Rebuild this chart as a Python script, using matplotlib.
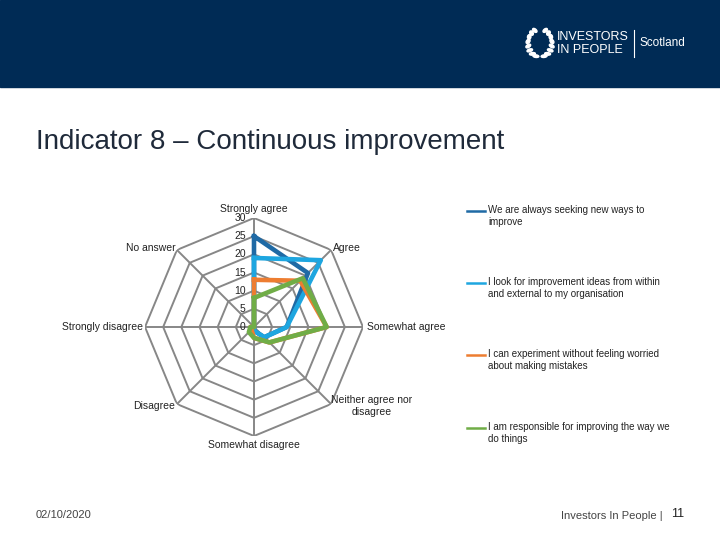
import numpy as np
import matplotlib
matplotlib.use("Agg")
import matplotlib.pyplot as plt
from matplotlib.patches import Rectangle, Ellipse
from matplotlib.lines import Line2D

plt.rcParams['font.family'] = ['Liberation Sans', 'DejaVu Sans']

# categories clockwise from the top
categories = ["Strongly agree", "Agree", "Somewhat agree", "Neither agree nor\ndisagree",
              "Somewhat disagree", "Disagree", "Strongly disagree", "No answer"]

series_names = ["We are always seeking new ways to\nimprove",
                "I look for improvement ideas from within\nand external to my organisation",
                "I can experiment without feeling worried\nabout making mistakes",
                "I am responsible for improving the way we\ndo things"]
seeking = [25, 21, 9, 4, 1, 0, 0, 0]
ideas = [19, 26, 9, 4, 1, 0, 0, 0]
experiment = [13, 18, 20, 6, 3, 1, 1, 0]
responsible = [8, 19, 20, 6, 3, 2, 1, 0]
series = [seeking, ideas, experiment, responsible]
colors = ['#1f6aa5', '#1ea6e0', '#ed7d31', '#70ad47']

ticks = [0, 5, 10, 15, 20, 25, 30]

W, H = 720, 540
fig = plt.figure(figsize=(7.2, 5.4), dpi=100)
fig.patch.set_facecolor('white')

def fx(px):
    return px / W

def fy(py):
    return 1 - py / H

# header band
fig.add_artist(Rectangle((0, fy(87)), 1, 87 / H, transform=fig.transFigure,
                         color='#002b55', zorder=0))

# logo: laurel wreath + text
cx, cy = 540, 43
for side in (-1, 1):
    for a in np.linspace(0.45, np.pi - 0.35, 8):
        ex = cx + side * 12 * np.sin(a)
        ey = cy - 14 * np.cos(a)
        ang = side * (np.degrees(a) - 90) + 90
        fig.add_artist(Ellipse((fx(ex), fy(ey)), 6 / W, 2.6 / H, angle=ang + side * 30,
                               transform=fig.transFigure, color='white', zorder=2))
fig.text(fx(557), fy(37), "INVESTORS", color='white', fontsize=9, va='center', ha='left')
fig.text(fx(557), fy(50), "IN PEOPLE", color='white', fontsize=9, va='center', ha='left')
fig.add_artist(Line2D([fx(634), fx(634)], [fy(30), fy(57)], color='white', lw=0.8,
                      transform=fig.transFigure))
fig.text(fx(640), fy(43), "Scotland", color='white', fontsize=8.5, va='center', ha='left')

# title
fig.text(fx(36), fy(142), "Indicator 8 \u2013 Continuous improvement", fontsize=20,
         color='#1f2a3a', va='center', ha='left')

# radar axes
R = 109
ax = fig.add_axes([fx(254 - R), fy(327 + R), 2 * R / W, 2 * R / H], projection='polar')
ax.set_theta_zero_location('N')
ax.set_theta_direction(-1)
ax.set_ylim(0, 30)
ax.grid(False)
ax.spines['polar'].set_visible(False)
ax.set_xticks([])
ax.set_yticks([])
ax.patch.set_alpha(0)

n = len(categories)
angles = np.linspace(0, 2 * np.pi, n, endpoint=False)
closed = np.append(angles, angles[0])

grid_col = '#878787'
for t in ticks[1:]:
    ax.plot(closed, [t] * (n + 1), color=grid_col, lw=1.4, zorder=1)
for a in angles:
    ax.plot([a, a], [0, 30], color=grid_col, lw=1.4, zorder=1)

for vals, c in zip(series, colors):
    ax.plot(closed, vals + vals[:1], color=c, lw=3.3, zorder=3)

for t in ticks:
    ax.annotate(str(t), xy=(0, t), xytext=(-6, 0), textcoords='offset points',
                ha='right', va='center', fontsize=7.5, color='#222222')

label_pos = [((0, 6.5), 'center'), ((1.5, 1.5), 'left'), ((3, 0), 'left'),
             ((29, -1.5), 'center'), ((0, -6.5), 'center'), ((-1.5, -1.5), 'right'),
             ((-1.5, 0), 'right'), ((-1, 1.5), 'right')]
for a, lab, (off, ha) in zip(angles, categories, label_pos):
    ax.annotate(lab, xy=(a, 30), xytext=off, textcoords='offset points', ha=ha,
                va='center', fontsize=7.5, color='#222222', multialignment='center',
                annotation_clip=False)

# legend on the right
leg_y = [211, 283, 355, 428]
for name, c, y in zip(series_names, colors, leg_y):
    fig.add_artist(Line2D([fx(467), fx(485)], [fy(y), fy(y)], color=c, lw=1.8,
                          transform=fig.transFigure))
    fig.text(fx(488), fy(y - 6), name, fontsize=7, color='#222222', ha='left', va='top',
             linespacing=1.25)

# footer
fig.text(fx(36), fy(515), "02/10/2020", fontsize=8, color='#444444', va='center', ha='left')
fig.text(fx(663), fy(516), "Investors In People |", fontsize=8, color='#444444',
         va='center', ha='right')
fig.text(fx(671), fy(514), "11", fontsize=9, color='#222222', va='center', ha='left')

fig.savefig("out.png", dpi=100)
